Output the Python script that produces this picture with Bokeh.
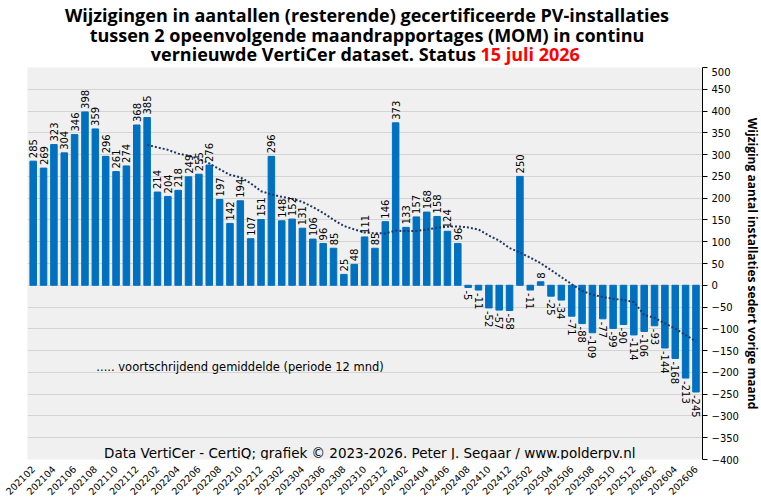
from math import pi

from bokeh.core.properties import value
from bokeh.embed import file_html
from bokeh.layouts import column
from bokeh.models import ColumnDataSource, FixedTicker, Range1d
from bokeh.plotting import figure
from bokeh.resources import INLINE

months = [
    "202102", "202103", "202104", "202105", "202106", "202107", "202108", "202109",
    "202110", "202111", "202112",
    "202201", "202202", "202203", "202204", "202205", "202206", "202207", "202208",
    "202209", "202210", "202211", "202212",
    "202301", "202302", "202303", "202304", "202305", "202306", "202307", "202308",
    "202309", "202310", "202311", "202312",
    "202401", "202402", "202403", "202404", "202405", "202406", "202407", "202408",
    "202409", "202410", "202411", "202412",
    "202501", "202502", "202503", "202504", "202505", "202506", "202507", "202508",
    "202509", "202510", "202511", "202512",
    "202601", "202602", "202603", "202604", "202605", "202606",
]

# month-on-month change in number of certified installations
changes = [
    285, 269, 323, 304, 346, 398, 359, 296, 261, 274, 368,
    385, 214, 204, 218, 249, 255, 276, 197, 142, 194, 107, 151,
    296, 148, 152, 131, 106, 96, 85, 25, 48, 111, 85, 146,
    373, 133, 157, 168, 158, 124, 96, -5, -11, -52, -57, -58,
    250, -11, 8, -25, -34, -71, -88, -109, -77, -99, -90, -114,
    -106, -93, -144, -168, -213, -245,
]

# 12 month moving average, starts at 202201
ma_months = months[11:]
ma_values = [
    322.3, 316.4, 311.0, 302.3, 297.7, 290.1, 279.9, 266.4, 253.6, 248.0, 234.1, 216.0,
    208.6, 203.1, 198.8, 191.5, 179.6, 166.3, 150.4, 136.1, 128.3, 121.3, 119.5, 119.1,
    125.5, 124.3, 124.7, 127.8, 132.1, 134.4, 135.3, 132.8, 127.9, 114.3, 102.5, 85.5,
    75.3, 63.3, 50.8, 34.8, 18.8, 2.5, -12.8, -21.5, -27.0, -30.9, -33.7, -38.3,
    -68.0, -74.8, -87.5, -99.4, -114.3, -128.8,
]

tick_labels = months[::2]

title_lines = [
    "Wijzigingen in aantallen (resterende) gecertificeerde PV-installaties",
    "tussen 2 opeenvolgende maandrapportages (MOM) in continu",
    "vernieuwde VertiCer dataset. Status ",
]
title_date = "15 juli 2026"
legend_text = "..... voortschrijdend gemiddelde (periode 12 mnd)"
footer_text = "Data VertiCer - CertiQ; grafiek \u00a9 2023-2026. Peter J. Segaar / www.polderpv.nl"

BAR = "#0070c0"
FONT = "DejaVu Sans"
TFONT = "Open Sans"

idx = list(range(len(months)))
ma_idx = [months.index(m) for m in ma_months]

# title strip in pixel coordinates; its frame lines up with the chart frame below
t = figure(frame_width=675, frame_height=67, x_range=Range1d(27, 702), y_range=Range1d(67, 0),
           x_axis_location=None, y_axis_location=None, min_border=0,
           output_backend="svg", toolbar_location=None)
t.outline_line_color = None
t.grid.visible = False
t.text(x=[366.5, 366.5], y=[14.7, 34], text=title_lines[:2], text_align="center",
       text_baseline="alphabetic", text_font=value(TFONT), text_font_style="bold",
       text_font_size="18px", text_color="black")
t.text(x=[480], y=[53], text=title_lines[2:], text_align="right",
       text_baseline="alphabetic", text_font=value(TFONT), text_font_style="bold",
       text_font_size="18px", text_color="black")
t.text(x=[480], y=[53], text=[title_date], text_align="left",
       text_baseline="alphabetic", text_font=value(TFONT), text_font_style="bold",
       text_font_size="18px", text_color="#ff0000")

p = figure(frame_width=675, frame_height=392, min_border_left=27, min_border_top=0,
           min_border_right=0, min_border_bottom=0,
           x_range=Range1d(-0.55, 64.63), y_range=Range1d(-400, 500),
           y_axis_location="right", output_backend="svg", toolbar_location=None)
p.background_fill_color = "#f0f0f0"
p.border_fill_color = "white"
p.outline_line_color = None
p.xgrid.grid_line_color = None
p.ygrid.grid_line_color = "#d4d4d4"

p.vbar(x=idx, top=changes, width=0.63, color=BAR)
p.line(ma_idx, ma_values, line_color="#1f3864", line_width=2, line_dash="2 2")

pos = [(i, v) for i, v in zip(idx, changes) if v >= 0]
neg = [(i, v) for i, v in zip(idx, changes) if v < 0]
src_pos = ColumnDataSource(dict(x=[a for a, b in pos], y=[b for a, b in pos],
                                t=[str(b) for a, b in pos]))
src_neg = ColumnDataSource(dict(x=[a for a, b in neg], y=[b for a, b in neg],
                                t=[str(b) for a, b in neg]))
p.text("x", "y", text="t", source=src_pos, angle=pi / 2, text_align="left",
       text_baseline="middle", y_offset=-3, text_font=value(FONT),
       text_font_size="10px", text_color="black")
p.text("x", "y", text="t", source=src_neg, angle=-pi / 2, text_align="left",
       text_baseline="middle", y_offset=3, text_font=value(FONT),
       text_font_size="10px", text_color="black")

# right axis
ax = p.yaxis[0]
ax.ticker = FixedTicker(ticks=list(range(-400, 501, 50)))
p.ygrid.ticker = ax.ticker
ax.axis_label = "Wijziging aantal installaties sedert vorige maand"
ax.axis_label_text_font = TFONT
ax.axis_label_text_font_style = "bold"
ax.axis_label_text_font_size = "12px"
ax.axis_label_text_color = "black"
ax.axis_label_standoff = 2
ax.major_label_text_font = FONT
ax.major_label_text_font_size = "10px"
ax.major_label_text_color = "black"
ax.axis_line_color = "black"
ax.major_tick_line_color = "black"
ax.major_tick_in = 0
ax.major_tick_out = 5
ax.minor_tick_line_color = None
ax.major_label_standoff = 4

# bottom axis with rotated month labels
xa = p.xaxis[0]
xa.ticker = FixedTicker(ticks=idx[::2])
xa.major_label_overrides = {i: m for i, m in zip(idx[::2], tick_labels)}
xa.major_label_orientation = pi / 4
xa.major_label_text_font = FONT
xa.major_label_text_font_size = "9.5px"
xa.major_label_text_color = "black"
xa.axis_line_color = None
xa.major_tick_line_color = None
xa.minor_tick_line_color = None
xa.major_label_standoff = 2

p.text(x=[6.1], y=[-187], text=[legend_text], text_align="left",
       text_baseline="alphabetic", text_font=value(FONT), text_font_size="11.5px",
       text_color="black")
p.text(x=[32.5], y=[-386], text=[footer_text], text_align="center",
       text_baseline="alphabetic", text_font=value(FONT), text_font_size="13.5px",
       text_color="black")

open("out.html", "w").write(file_html(column(t, p, spacing=0), INLINE))
